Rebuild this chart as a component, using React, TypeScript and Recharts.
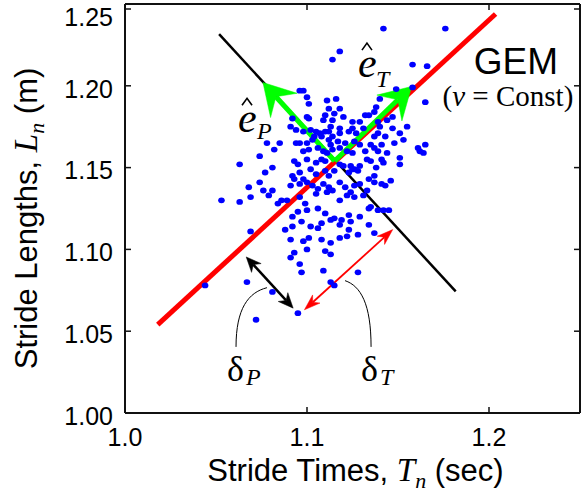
import React from 'react';
import { ScatterChart, Scatter, XAxis, YAxis, ReferenceLine, ReferenceDot } from 'recharts';

const SANS = '"Liberation Sans", Arial, sans-serif';
const SERIF = '"Liberation Serif", "Times New Roman", serif';

// Stride times (sec), paired by index with stride lengths (m)
const strideTimes = [
  1.142, 1.176, 1.118, 1.114, 1.158, 1.166, 1.149, 1.158, 1.165, 1.147, 1.155, 1.147,
  1.096, 1.098, 1.100, 1.111, 1.116, 1.140,
  1.101, 1.112, 1.118, 1.138, 1.137,
  1.100, 1.110, 1.115, 1.120, 1.132, 1.134,
  1.092, 1.101, 1.109, 1.114, 1.125, 1.129, 1.139, 1.144, 1.140, 1.091, 1.113, 1.118, 1.125, 1.131,
  1.094, 1.098, 1.102, 1.105, 1.107, 1.110, 1.112, 1.118, 1.123, 1.127, 1.139, 1.151, 1.104, 1.108, 1.114, 1.137, 1.143,
  1.078, 1.085, 1.094, 1.096, 1.100, 1.103, 1.112, 1.117, 1.113, 1.121, 1.126, 1.129, 1.135, 1.141, 1.148, 1.153, 1.161, 1.165,
  1.074, 1.082, 1.098, 1.101, 1.106, 1.109, 1.111, 1.114, 1.118, 1.122, 1.125, 1.132, 1.137, 1.139, 1.144, 1.151, 1.162, 1.164,
  1.063, 1.081, 1.093, 1.095, 1.100, 1.105, 1.108, 1.110, 1.118, 1.120, 1.124, 1.126, 1.129, 1.133, 1.135, 1.138, 1.141, 1.142, 1.151,
  1.077, 1.092, 1.096, 1.102, 1.105, 1.110, 1.112, 1.115, 1.123, 1.125, 1.128, 1.134, 1.137, 1.146, 1.093, 1.098,
  1.068, 1.074, 1.076, 1.081, 1.091, 1.096, 1.100, 1.103, 1.106, 1.109, 1.112, 1.118, 1.121, 1.126, 1.129, 1.133, 1.137, 1.141, 1.143, 1.069,
  1.053, 1.063, 1.079, 1.084, 1.086, 1.089, 1.096, 1.099, 1.105, 1.111, 1.114, 1.118, 1.122, 1.124, 1.126, 1.131, 1.134, 1.139, 1.142, 1.145,
  1.092, 1.095, 1.100, 1.106, 1.110, 1.115, 1.119, 1.123, 1.124, 1.129, 1.135, 1.069, 1.088, 1.092, 1.097, 1.102, 1.106, 1.108, 1.113, 1.118, 1.123, 1.128, 1.134, 1.137,
  1.091, 1.098, 1.101, 1.108, 1.113, 1.118, 1.122, 1.093, 1.100, 1.113, 1.091, 1.110,
  1.096, 1.097, 1.109, 1.128, 1.113, 1.115, 1.067, 1.044, 1.081, 1.095, 1.072,
];

const strideLengths = [
  1.235, 1.235, 1.221, 1.216, 1.213, 1.212, 1.198, 1.199, 1.190, 1.181, 1.175, 1.174,
  1.197, 1.197, 1.193, 1.191, 1.192, 1.192,
  1.189, 1.186, 1.186, 1.187, 1.184,
  1.181, 1.182, 1.183, 1.181, 1.182, 1.182,
  1.180, 1.180, 1.179, 1.179, 1.178, 1.178, 1.178, 1.179, 1.175, 1.175, 1.175, 1.174, 1.174, 1.174,
  1.173, 1.172, 1.173, 1.172, 1.171, 1.172, 1.172, 1.171, 1.172, 1.171, 1.171, 1.171, 1.169, 1.169, 1.169, 1.169, 1.169,
  1.165, 1.165, 1.165, 1.165, 1.165, 1.167, 1.167, 1.166, 1.164, 1.165, 1.166, 1.164, 1.164, 1.164, 1.165, 1.167, 1.162, 1.164,
  1.157, 1.161, 1.160, 1.161, 1.162, 1.160, 1.159, 1.161, 1.162, 1.160, 1.159, 1.160, 1.162, 1.160, 1.159, 1.156, 1.160, 1.159,
  1.152, 1.150, 1.154, 1.152, 1.155, 1.153, 1.155, 1.154, 1.152, 1.151, 1.151, 1.149, 1.151, 1.155, 1.154, 1.150, 1.155, 1.153, 1.152,
  1.147, 1.145, 1.147, 1.149, 1.146, 1.148, 1.145, 1.148, 1.147, 1.149, 1.148, 1.143, 1.145, 1.142, 1.143, 1.143,
  1.138, 1.141, 1.136, 1.136, 1.139, 1.140, 1.141, 1.139, 1.137, 1.140, 1.138, 1.141, 1.138, 1.139, 1.140, 1.136, 1.141, 1.140, 1.139, 1.132,
  1.130, 1.129, 1.133, 1.128, 1.130, 1.130, 1.132, 1.128, 1.134, 1.135, 1.136, 1.130, 1.133, 1.135, 1.132, 1.133, 1.125, 1.124, 1.124, 1.124,
  1.120, 1.123, 1.124, 1.125, 1.122, 1.119, 1.118, 1.121, 1.117, 1.120, 1.126, 1.111, 1.112, 1.114, 1.117, 1.114, 1.113, 1.116, 1.118, 1.115, 1.112, 1.109, 1.115, 1.110,
  1.106, 1.105, 1.107, 1.106, 1.104, 1.107, 1.108, 1.098, 1.100, 1.097, 1.095, 1.099,
  1.091, 1.086, 1.087, 1.086, 1.080, 1.078, 1.080, 1.078, 1.074, 1.061, 1.057,
];

const xTicks = [1.0, 1.1, 1.2];
const yTicks = [1.0, 1.05, 1.1, 1.15, 1.2, 1.25];
const xMin = 1.0, xMax = 1.25, yMin = 1.0, yMax = 1.25;

// Annotation geometry (data units)
const gemLine = [{ x: 1.018, y: 1.054 }, { x: 1.2036, y: 1.2439 }];
const perpLine = [{ x: 1.0517, y: 1.2316 }, { x: 1.1817, y: 1.0743 }];
const origin = { x: 1.1152, y: 1.154 };
const ePTip = { x: 1.0758, y: 1.202 };
const eTTip = { x: 1.1575, y: 1.1996 };
const deltaPArrow = [{ x: 1.0666, y: 1.0954 }, { x: 1.0924, y: 1.0641 }];
const deltaTArrow = [{ x: 1.0986, y: 1.0631 }, { x: 1.1471, y: 1.1121 }];
const deltaPCurve = [{ x: 1.078, y: 1.0766 }, { x: 1.061, y: 1.0404 }];
const deltaTCurve = [{ x: 1.1209, y: 1.0809 }, { x: 1.1352, y: 1.0404 }];
const ePLabel = { x: 1.0621, y: 1.1716 };
const eTLabel = { x: 1.128, y: 1.2053 };
const dPLabel = { x: 1.056, y: 1.0196 };
const dTLabel = { x: 1.1297, y: 1.0196 };
const gemLabel = { x: 1.2148, y: 1.2071 };
const constLabel = { x: 1.2104, y: 1.1875 };

const points = strideTimes.map((t, i) => ({ t, l: strideLengths[i] }));

// Layout constants
const CHART_W = 586;
const CHART_H = 493;
const MARGIN = { top: 4, right: 6, bottom: 0, left: 0 };
const Y_AXIS_W = 125;
const X_AXIS_H = 80;
const PLOT_LEFT = MARGIN.left + Y_AXIS_W;
const PLOT_RIGHT = CHART_W - MARGIN.right;
const PLOT_TOP = MARGIN.top;
const PLOT_BOTTOM = CHART_H - MARGIN.bottom - X_AXIS_H;
const TICK_LEN = 6;
const FRAME = '#111';

function headPoly(tx: number, ty: number, ux: number, uy: number, L: number, W: number, notch: number) {
  const bx = tx - ux * L;
  const by = ty - uy * L;
  const nx = -uy;
  const ny = ux;
  const lx = bx + nx * W, ly = by + ny * W;
  const rx = bx - nx * W, ry = by - ny * W;
  const kx = tx - ux * L * notch, ky = ty - uy * L * notch;
  return `${tx},${ty} ${lx},${ly} ${kx},${ky} ${rx},${ry}`;
}

function arrowShape(color: string, width: number, L: number, W: number, notch: number, both: boolean) {
  return (p: any) => {
    const { x1, y1, x2, y2 } = p;
    const dx = x2 - x1, dy = y2 - y1;
    const len = Math.sqrt(dx * dx + dy * dy) || 1;
    const ux = dx / len, uy = dy / len;
    const sx = both ? x1 + ux * L * notch : x1;
    const sy = both ? y1 + uy * L * notch : y1;
    const ex = x2 - ux * L * notch;
    const ey = y2 - uy * L * notch;
    return (
      <g>
        <line x1={sx} y1={sy} x2={ex} y2={ey} stroke={color} strokeWidth={width} strokeLinecap="butt" />
        <polygon points={headPoly(x2, y2, ux, uy, L, W, notch)} fill={color} stroke={color} strokeWidth={0.5} />
        {both && <polygon points={headPoly(x1, y1, -ux, -uy, L, W, notch)} fill={color} stroke={color} strokeWidth={0.5} />}
      </g>
    );
  };
}

const curveShape = (p: any) => {
  const { x1, y1, x2, y2 } = p;
  const c1x = x1 + (x2 - x1) * 0.6;
  const c1y = y1 + (y2 - y1) * 0.08;
  const c2x = x2;
  const c2y = y1 + (y2 - y1) * 0.35;
  return <path d={`M${x1},${y1} C${c1x},${c1y} ${c2x},${c2y} ${x2},${y2}`} fill="none" stroke="#000" strokeWidth={1} />;
};

const hatLabel = (sub: string, subDx: number, subDy: number) => (p: any) => {
  const { cx, cy } = p;
  return (
    <g>
      <text x={cx} y={cy} fontFamily={SERIF} fontStyle="italic" fontSize={42} fill="#000">e</text>
      <polyline points={`${cx + 4},${cy - 27} ${cx + 9},${cy - 34} ${cx + 14},${cy - 27}`} fill="none" stroke="#000" strokeWidth={1.6} />
      <text x={cx + subDx} y={cy + subDy} fontFamily={SERIF} fontStyle="italic" fontSize={24} fill="#000">{sub}</text>
    </g>
  );
};

const deltaLabel = (sub: string) => (p: any) => {
  const { cx, cy } = p;
  return (
    <g>
      <text x={cx} y={cy} fontFamily={SERIF} fontSize={36} fill="#000">δ</text>
      <text x={cx + 19} y={cy + 4} fontFamily={SERIF} fontStyle="italic" fontSize={24} fill="#000">{sub}</text>
    </g>
  );
};

const gemShape = (p: any) => (
  <text x={p.cx} y={p.cy} textAnchor="middle" fontFamily={SANS} fontSize={37} fill="#000">GEM</text>
);

const constShape = (p: any) => (
  <text x={p.cx} y={p.cy} textAnchor="middle" fontFamily={SERIF} fontSize={29} fill="#000">
    (<tspan fontStyle="italic">ν</tspan> = Const)
  </text>
);

// X tick: label + inward tick marks on bottom and (mirrored) top edges at the library's tick x
const XTick = (p: any) => (
  <g>
    <line x1={p.x} y1={PLOT_BOTTOM} x2={p.x} y2={PLOT_BOTTOM - TICK_LEN} stroke={FRAME} strokeWidth={1.5} />
    <line x1={p.x} y1={PLOT_TOP} x2={p.x} y2={PLOT_TOP + TICK_LEN} stroke={FRAME} strokeWidth={1.5} />
    <text x={p.x} y={p.y} dy="0.71em" textAnchor="middle" fontFamily={SANS} fontSize={25} fill="#000">
      {Number(p.payload.value).toFixed(1)}
    </text>
  </g>
);

// Y tick: label + inward tick marks on left and (mirrored) right edges at the library's tick y
const YTick = (p: any) => {
  const v = Number(p.payload.value);
  const shift = v >= 1.249 ? 8 : 3;
  return (
    <g>
      <line x1={PLOT_LEFT} y1={p.y} x2={PLOT_LEFT + TICK_LEN} y2={p.y} stroke={FRAME} strokeWidth={1.5} />
      <line x1={PLOT_RIGHT - TICK_LEN} y1={p.y} x2={PLOT_RIGHT} y2={p.y} stroke={FRAME} strokeWidth={1.5} />
      <text x={p.x} y={p.y + shift} dy="0.35em" textAnchor="end" fontFamily={SANS} fontSize={25} fill="#000">
        {v.toFixed(2)}
      </text>
    </g>
  );
};

const XLabel = (p: any) => {
  const vb = p.viewBox || { x: PLOT_LEFT, y: PLOT_BOTTOM, width: PLOT_RIGHT - PLOT_LEFT, height: X_AXIS_H };
  const cx = vb.x + vb.width / 2 + 3;
  const y = vb.y + 68;
  const right = vb.x + vb.width;
  return (
    <g>
      {/* right edge of the box */}
      <line x1={right} y1={PLOT_TOP} x2={right} y2={vb.y} stroke={FRAME} strokeWidth={2} />
      <text x={cx} y={y} textAnchor="middle" fontFamily={SANS} fontSize={31} fill="#000">
        Stride Times, <tspan fontFamily={SERIF} fontStyle="italic" fontSize={33}>T</tspan>
        <tspan fontFamily={SERIF} fontStyle="italic" fontSize={22} dy={7}>n</tspan>
        <tspan dy={-7}> (sec)</tspan>
      </text>
    </g>
  );
};

const YLabel = (p: any) => {
  const vb = p.viewBox || { x: 0, y: PLOT_TOP, width: Y_AXIS_W, height: PLOT_BOTTOM - PLOT_TOP };
  const x = vb.x + 37;
  const y = vb.y + vb.height / 2 + 10;
  return (
    <g>
      {/* top edge of the box */}
      <line x1={vb.x + vb.width} y1={vb.y} x2={PLOT_RIGHT} y2={vb.y} stroke={FRAME} strokeWidth={2} />
      <text x={x} y={y} transform={`rotate(-90, ${x}, ${y})`} textAnchor="middle" fontFamily={SANS} fontSize={31} fill="#000">
        Stride Lengths, <tspan fontFamily={SERIF} fontStyle="italic" fontSize={33}>L</tspan>
        <tspan fontFamily={SERIF} fontStyle="italic" fontSize={22} dy={7}>n</tspan>
        <tspan dy={-7}> (m)</tspan>
      </text>
    </g>
  );
};

const axisLineStyle = { stroke: FRAME, strokeWidth: 2 };

export default function App() {
  return (
    <div style={{ position: 'absolute', left: 0, top: 0, width: CHART_W, height: CHART_H, background: '#fff' }}>
      <ScatterChart width={CHART_W} height={CHART_H} margin={MARGIN}>
        <XAxis
          type="number"
          dataKey="t"
          domain={[xMin, xMax]}
          ticks={xTicks}
          height={X_AXIS_H}
          tickSize={0}
          tickMargin={15}
          tick={XTick}
          axisLine={axisLineStyle}
          tickLine={false}
          label={XLabel}
        />
        <YAxis
          type="number"
          dataKey="l"
          domain={[yMin, yMax]}
          ticks={yTicks}
          width={Y_AXIS_W}
          tickSize={0}
          tickMargin={12}
          tick={YTick}
          axisLine={axisLineStyle}
          tickLine={false}
          label={YLabel}
        />
        <Scatter
          data={points}
          isAnimationActive={false}
          shape={(p: any) => <ellipse cx={p.cx} cy={p.cy} rx={3.3} ry={2.9} fill="#0000ff" />}
        />
        <ReferenceLine segment={perpLine} stroke="#000" strokeWidth={2.5} ifOverflow="visible" />
        <ReferenceLine segment={gemLine} stroke="#ff0000" strokeWidth={5} ifOverflow="visible" />
        <ReferenceLine segment={[origin, ePTip]} ifOverflow="visible" shape={arrowShape('#00ff00', 5, 31, 18, 0.62, false)} />
        <ReferenceLine segment={[origin, eTTip]} ifOverflow="visible" shape={arrowShape('#00ff00', 5, 31, 18, 0.62, false)} />
        <ReferenceLine segment={deltaPArrow} ifOverflow="visible" shape={arrowShape('#000', 2.5, 15, 6.5, 0.7, true)} />
        <ReferenceLine segment={deltaTArrow} ifOverflow="visible" shape={arrowShape('#ff0000', 1.8, 16, 5.5, 0.7, true)} />
        <ReferenceLine segment={deltaPCurve} ifOverflow="visible" shape={curveShape} />
        <ReferenceLine segment={deltaTCurve} ifOverflow="visible" shape={curveShape} />
        <ReferenceDot x={ePLabel.x} y={ePLabel.y} r={0} ifOverflow="visible" shape={hatLabel('P', 19, 7)} />
        <ReferenceDot x={eTLabel.x} y={eTLabel.y} r={0} ifOverflow="visible" shape={hatLabel('T', 18, 10)} />
        <ReferenceDot x={dPLabel.x} y={dPLabel.y} r={0} ifOverflow="visible" shape={deltaLabel('P')} />
        <ReferenceDot x={dTLabel.x} y={dTLabel.y} r={0} ifOverflow="visible" shape={deltaLabel('T')} />
        <ReferenceDot x={gemLabel.x} y={gemLabel.y} r={0} ifOverflow="visible" shape={gemShape} />
        <ReferenceDot x={constLabel.x} y={constLabel.y} r={0} ifOverflow="visible" shape={constShape} />
      </ScatterChart>
    </div>
  );
}
